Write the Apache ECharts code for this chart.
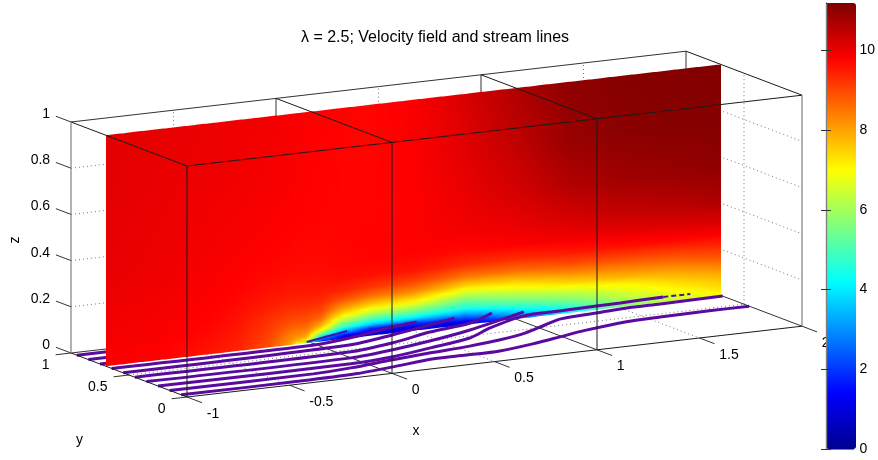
<!DOCTYPE html>
<html>
<head>
<meta charset="utf-8">
<style>html,body{margin:0;padding:0;background:#fff}#c{width:878px;height:460px}</style>
<script src="https://cdn.jsdelivr.net/npm/echarts@6/dist/echarts.min.js"></script>
</head>
<body>
<div id="c"></div>
<script>
// ---------- values ----------
const titleText = 'λ = 2.5; Velocity field and stream lines';
const xTicks = [-1, -0.5, 0, 0.5, 1, 1.5, 2];
const yTicks = [0, 0.5, 1];
const zTicks = [0, 0.2, 0.4, 0.6, 0.8, 1];
const barTicksMax = 11.19;
const sliceY = 0.7;

const fieldX = [-1, -0.75, -0.5, -0.35, -0.2, -0.1, -0.02, 0.05, 0.15, 0.3, 0.5, 0.75, 1, 1.25, 1.5, 1.75, 2];
const fieldZ = [0, 0.015, 0.03, 0.05, 0.07, 0.1, 0.13, 0.17, 0.21, 0.26, 0.32, 0.4, 0.55, 0.75, 1];
// one profile (bottom to top) for each entry of fieldX
const speedByX = [
  [9.85,9.85,9.85,9.85,9.85,9.9,9.9,9.9,9.95,9.95,10,10.03,10.05,10.08,10.1],
  [9.8,9.8,9.8,9.8,9.82,9.85,9.85,9.88,9.9,9.92,9.95,9.98,10,10.03,10.05],
  [9.55,9.6,9.62,9.65,9.68,9.72,9.75,9.78,9.8,9.82,9.85,9.88,9.92,9.96,10],
  [9.4,9.42,9.45,9.48,9.5,9.55,9.6,9.65,9.7,9.75,9.78,9.82,9.88,9.93,9.96],
  [8.9,8.95,9,9.05,9.12,9.2,9.3,9.45,9.55,9.65,9.72,9.78,9.83,9.88,9.92],
  [8.1,8.2,8.3,8.5,8.7,8.95,9.15,9.35,9.5,9.6,9.68,9.75,9.8,9.85,9.88],
  [5.5,7.3,7.9,8.3,8.6,8.9,9.1,9.35,9.5,9.6,9.68,9.72,9.78,9.8,9.82],
  [1.5,3.5,5.2,7,7.9,8.6,9,9.3,9.5,9.6,9.68,9.72,9.76,9.78,9.8],
  [1,1.5,3.2,4.7,5.8,7.1,8,8.9,9.4,9.65,9.72,9.75,9.75,9.75,9.77],
  [0.8,1.2,1.7,3.7,4.9,6.3,7.4,8.5,9.2,9.6,9.75,9.78,9.75,9.75,9.75],
  [0.9,1.2,1.8,3.6,4.8,6.1,7.2,8.3,9,9.55,9.75,9.8,9.8,9.82,9.85],
  [0.9,1.3,2.2,3.3,4.4,5.3,6.2,7.5,8.5,9.3,9.7,9.9,10,10.1,10.2],
  [2,3,3.7,4.5,5.2,6,6.8,7.7,8.6,9.3,9.8,10,10.25,10.45,10.65],
  [4,4.4,4.8,5.4,5.9,6.6,7.4,8.2,8.9,9.5,9.9,10.2,10.6,10.9,11],
  [5.5,5.7,6,6.3,6.6,7.1,7.8,8.4,9,9.6,10,10.4,10.8,11.05,11.1],
  [6.3,6.5,6.7,7,7.2,7.6,8,8.6,9.1,9.7,10.1,10.5,10.9,11.1,11.12],
  [7,7.1,7.3,7.5,7.7,8,8.4,8.9,9.3,9.8,10.2,10.65,11,11.12,11.15]
];

// stream lines on the floor: x and y along each line
const backLine1X = [-1, -0.4], backLine1Y = [0.95, 0.95];
const backLine2X = [-1, -0.4], backLine2Y = [0.85, 0.85];
const backLine3X = [-1, -0.4], backLine3Y = [0.75, 0.75];

const line1X = [-1,-0.42,-0.14,0.06,0.3,0.46,0.625,0.84,0.99,1.14,1.38,1.56,1.815,2];
const line1Y = [0.05,0.05,0.065,0.11,0.17,0.17,0.175,0.24,0.3,0.36,0.43,0.445,0.455,0.455];
const line2X = [-1,-0.3,-0.1,0.13,0.34,0.56,0.73,0.9,1.05,1.17,1.36,1.49,1.69,2];
const line2Y = [0.15,0.15,0.179,0.234,0.279,0.32,0.366,0.438,0.537,0.611,0.642,0.665,0.673,0.684];
const line3X = [-1,-0.06,0.16,0.39,0.64,0.815,1.06,1.24,1.43,1.55,1.77];
const line3Y = [0.25,0.25,0.286,0.366,0.461,0.595,0.738,0.751,0.764,0.77,0.789];
const line3TailX = [1.77,1.9], line3TailY = [0.789,0.786];
const line4X = [-1,0,0.23,0.46,0.72,1.1];
const line4Y = [0.35,0.353,0.409,0.488,0.6,0.808];
const line5X = [-1,0.05,0.3,0.55,0.79,0.97];
const line5Y = [0.45,0.458,0.531,0.645,0.722,0.853];
const line6X = [-1,0.12,0.38,0.78];
const line6Y = [0.55,0.58,0.67,0.839];
const line7X = [-1,-0.02,0.19,0.46,0.6];
const line7Y = [0.65,0.65,0.702,0.809,0.848];
const line8X = [-0.01,0.25];
const line8Y = [0.718,0.828];

// ---------- view of the 3-D box ----------
function project(x, y, z) {
  const X = x + 1;
  return [187 + 205 * X - 116 * y, 397 - 23.6 * X - 44 * y - 231 * z];
}
const jetColors = ['#00008f','#0000ff','#007fff','#00ffff','#7fff7f','#ffff00','#ff7f00','#ff0000','#7f0000'];
const fontName = '"Liberation Sans", Arial, sans-serif';

// one data item for every x interval of the field; it is painted as thin vertical strips
const planeCells = [];
for (let i = 0; i < fieldX.length - 1; i++) planeCells.push([i, 0, speedByX[i][0]]);

function renderPlaneCell(params, api) {
  const i = api.value(0);
  const x0 = fieldX[i], x1 = fieldX[i + 1];
  const nx = Math.max(1, Math.round((x1 - x0) * 205 / 2));
  const children = [];
  for (let a = 0; a < nx; a++) {
    const s = (a + 0.5) / nx;
    const xa = x0 + (x1 - x0) * a / nx, xb = x0 + (x1 - x0) * (a + 1) / nx;
    const pMid0 = api.coord(project((xa + xb) / 2, sliceY, 0));
    const pMid1 = api.coord(project((xa + xb) / 2, sliceY, 1));
    const colorStops = [];
    for (let j = 0; j < fieldZ.length - 1; j++) {
      const va = speedByX[i][j] * (1 - s) + speedByX[i + 1][j] * s;
      const vb = speedByX[i][j + 1] * (1 - s) + speedByX[i + 1][j + 1] * s;
      const n = Math.max(1, Math.ceil((fieldZ[j + 1] - fieldZ[j]) * 231 / 4));
      for (let k = j === 0 ? 0 : 1; k <= n; k++) {
        const t = k / n;
        colorStops.push({
          offset: fieldZ[j] + (fieldZ[j + 1] - fieldZ[j]) * t,
          color: echarts.color.lerp(Math.min(1, (va + (vb - va) * t) / barTicksMax), jetColors)
        });
      }
    }
    // strip edges are snapped to whole pixels so that neighbouring strips meet without a seam
    const snap = p => [Math.round(p[0]), p[1]];
    const p00 = snap(api.coord(project(xa, sliceY, 0))), p10 = snap(api.coord(project(xb, sliceY, 0)));
    const p11 = snap(api.coord(project(xb, sliceY, 1))), p01 = snap(api.coord(project(xa, sliceY, 1)));
    children.push({
      type: 'polygon', silent: true,
      shape: { points: [p00, p10, p11, p01] },
      style: {
        fill: { type: 'linear', global: true, x: pMid0[0], y: pMid0[1], x2: pMid1[0], y2: pMid1[1], colorStops }
      }
    });
  }
  return { type: 'group', children };
}

function path(pts) { return pts.map(p => project(p[0], p[1], p[2])); }
function segments(list) {
  const out = [];
  list.forEach(seg => { path(seg).forEach(p => out.push(p)); out.push([null, null]); });
  return out;
}
function streamData(xs, ys) { return xs.map((x, k) => project(x, ys[k], 0)); }

// box edges behind the slice
const backEdges = [
  [[-1,1,1],[2,1,1]], [[-1,1,0],[2,1,0]],
  [[0,1,0],[0,1,1]], [[1,1,0],[1,1,1]], [[2,1,0],[2,1,1]],
  [[0,1,0],[0,0,0]], [[1,1,0],[1,0,0]], [[2,1,0],[2,0,0]]
];
// box edges in front of the slice
const frontEdges = [
  [[-1,0,1],[2,0,1]], [[-1,0,0],[2,0,0]], [[-1,0,0],[-1,0,1]], [[0,0,0],[0,0,1]], [[1,0,0],[1,0,1]],
  [[-1,1,1],[-1,0,1]], [[0,1,1],[0,0,1]], [[1,1,1],[1,0,1]], [[2,1,1],[2,0,1]], [[-1,1,0],[-1,0,0]]
];
const grayEdges = [ [[-1,1,0],[-1,1,1]], [[2,0,0],[2,0,1]] ];

const dottedLines = [];
[0.2,0.4,0.6,0.8].forEach(z => {
  dottedLines.push([[-1,1,z],[2,1,z]]);
  dottedLines.push([[2,1,z],[2,0,z]]);
});
[-0.5,0.5,1.5].forEach(x => {
  dottedLines.push([[x,1,0],[x,1,1]]);
  dottedLines.push([[x,1,0],[x,0,0]]);
});
dottedLines.push([[2,0.5,0],[2,0.5,1]]);
dottedLines.push([[-1,0.5,0],[2,0.5,0]]);

const tickMarks = [];
xTicks.forEach(x => tickMarks.push([[x,0,0],[x,-0.13,0]]));
yTicks.forEach(y => tickMarks.push([[-1,y,0],[-1.075,y,0]]));
zTicks.forEach(z => tickMarks.push([[-1,1,z],[-1,1.13,z]]));

const labels = [];
xTicks.forEach(x => labels.push({ p: project(x, -0.17, -0.04), t: String(x), a: 'left' }));
yTicks.forEach(y => labels.push({ p: project(-1.105, y, -0.04), t: String(y), a: 'right' }));
zTicks.forEach(z => labels.push({ p: project(-1, 1.18, z), t: String(z), a: 'right' }));
labels.push({ p: project(-0.03, -0.26, -0.197), t: 'x', a: 'center' });
labels.push({ p: project(-1.1, 0.75, -0.32), t: 'y', a: 'center' });
labels.push({ p: project(-1.02, 1.45, 0.405), t: 'z', a: 'center', r: Math.PI / 2 });

function lineSeries(data, color, width, type, z, extra) {
  return Object.assign({
    type: 'line', xAxisIndex: 0, yAxisIndex: 0, data, z, showSymbol: false, symbol: 'none',
    clip: false, silent: true, connectNulls: false, animation: false,
    lineStyle: { color, width, type: type || 'solid', cap: 'butt' }
  }, extra || {});
}
const purple = '#5a0a9e';
const soft = { smooth: 0.3 };
const series = [
  lineSeries(segments(dottedLines), '#777', 1, [1, 3], 1),
  lineSeries(segments(backEdges), '#333', 1, 'solid', 1),
  lineSeries(segments(tickMarks), '#333', 1, 'solid', 1),
  lineSeries(streamData(backLine1X, backLine1Y), purple, 3, 'solid', 1),
  lineSeries(streamData(backLine2X, backLine2Y), purple, 3, 'solid', 1),
  lineSeries(streamData(backLine3X, backLine3Y), purple, 3, 'solid', 1),
  {
    type: 'custom', xAxisIndex: 0, yAxisIndex: 0, data: planeCells, z: 2, silent: true,
    progressive: 0, animation: false, clip: false, renderItem: renderPlaneCell,
    encode: { x: 0, y: 1 }
  },
  lineSeries(streamData(line1X, line1Y), purple, 3, 'solid', 3, soft),
  lineSeries(streamData(line2X, line2Y), purple, 3, 'solid', 3, soft),
  lineSeries(streamData(line3X, line3Y), purple, 3, 'solid', 3, soft),
  lineSeries(streamData(line3TailX, line3TailY), purple, 2, [5, 3], 3),
  lineSeries(streamData(line4X, line4Y), purple, 3, 'solid', 3, soft),
  lineSeries(streamData(line5X, line5Y), purple, 3, 'solid', 3, soft),
  lineSeries(streamData(line6X, line6Y), purple, 3, 'solid', 3, soft),
  lineSeries(streamData(line7X, line7Y), purple, 3, 'solid', 3, soft),
  lineSeries(streamData(line8X, line8Y), '#3a14b0', 2, 'solid', 3),
  lineSeries(segments(frontEdges), '#1a1a1a', 1, 'solid', 4),
  lineSeries(segments(grayEdges), '#808080', 1.2, 'solid', 4),
  {
    type: 'custom', xAxisIndex: 0, yAxisIndex: 0, z: 3, silent: true, animation: false, clip: false,
    data: labels.map((l, i) => [i]),
    renderItem(params, api) {
      const l = labels[params.dataIndex];
      const c = api.coord(l.p);
      return {
        type: 'text', x: c[0], y: c[1], rotation: l.r || 0, silent: true,
        style: { text: l.t, fill: '#000', font: '14px ' + fontName, align: l.a, verticalAlign: 'middle' }
      };
    }
  }
];

const barGrid = { left: 826, top: 3, width: 30, height: 446, show: false };
const barLine = { show: true, lineStyle: { color: '#808080', width: 1.2 } };
const barLabel = { show: true, color: '#000', fontSize: 14, fontFamily: fontName, margin: 6 };

const chart = echarts.init(document.getElementById('c'), null, { renderer: 'canvas' });
chart.setOption({
  animation: false,
  backgroundColor: '#fff',
  title: {
    text: titleText, left: 430, top: 25, textAlign: 'center',
    textStyle: { fontFamily: fontName, fontSize: 16, fontWeight: 'normal', color: '#000' }
  },
  tooltip: { show: false },
  grid: [{ left: 0, top: 0, width: 878, height: 460, show: false }, barGrid],
  xAxis: [
    { type: 'value', gridIndex: 0, min: 0, max: 878, show: false },
    { type: 'value', gridIndex: 1, min: 0, max: 1, position: 'top', z: 6, axisLine: barLine, axisTick: { show: false }, axisLabel: { show: false }, splitLine: { show: false } },
    { type: 'value', gridIndex: 1, min: 0, max: 1, position: 'bottom', z: 6, axisLine: barLine, axisTick: { show: false }, axisLabel: { show: false }, splitLine: { show: false } }
  ],
  yAxis: [
    { type: 'value', gridIndex: 0, min: 0, max: 460, inverse: true, show: false },
    { type: 'value', gridIndex: 1, min: 0, max: barTicksMax, interval: 2, position: 'left', z: 6,
      axisLine: barLine, axisTick: { show: true, inside: true, length: 5, lineStyle: { color: '#333' } }, axisLabel: { show: false }, splitLine: { show: false } },
    { type: 'value', gridIndex: 1, min: 0, max: barTicksMax, interval: 2, position: 'right', z: 6,
      axisLine: barLine, axisTick: { show: true, inside: true, length: 5, lineStyle: { color: '#333' } },
      axisLabel: Object.assign({ showMaxLabel: false }, barLabel), splitLine: { show: false } }
  ],
  visualMap: {
    type: 'continuous', min: 0, max: barTicksMax, left: 826, top: 3, itemWidth: 30, itemHeight: 446,
    padding: 0, calculable: false, realtime: false, hoverLink: false, seriesIndex: 6, dimension: 2,
    inRange: { color: jetColors }, z: 5, text: null, showLabel: false, textStyle: { color: 'transparent' }
  },
  series
});
</script>
</body>
</html>
